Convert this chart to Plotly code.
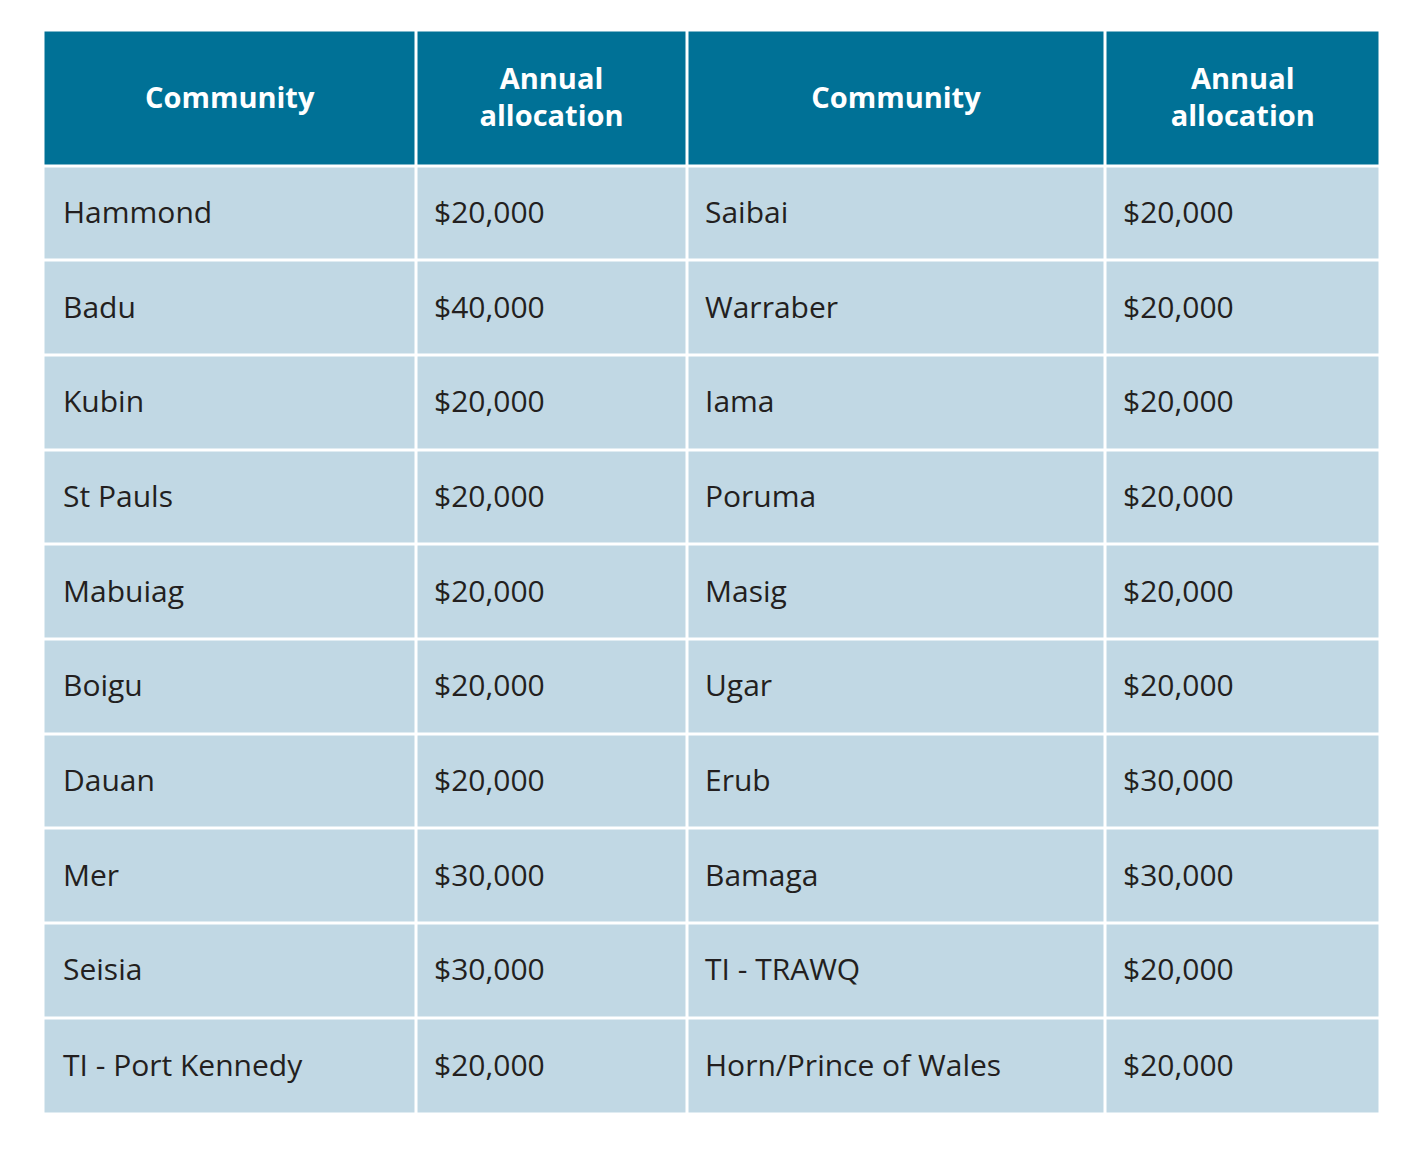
import plotly.graph_objects as go

# Table data
header_labels = ["Community", "Annual<br>allocation", "Community", "Annual<br>allocation"]
community_left = ["Hammond", "Badu", "Kubin", "St Pauls", "Mabuiag",
                  "Boigu", "Dauan", "Mer", "Seisia", "TI - Port Kennedy"]
allocation_left = [20000, 40000, 20000, 20000, 20000,
                   20000, 20000, 30000, 30000, 20000]
community_right = ["Saibai", "Warraber", "Iama", "Poruma", "Masig",
                   "Ugar", "Erub", "Bamaga", "TI - TRAWQ", "Horn/Prince of Wales"]
allocation_right = [20000, 20000, 20000, 20000, 20000,
                    20000, 30000, 30000, 20000, 20000]

# Layout (pixel units of the page)
W, H = 1414, 1157
OFF = 8                      # page body margin
GAP = 3                      # white rules between cells
left = 45 - GAP / 2
col_widths = [371 + GAP / 2, 271, 418, 274 + GAP / 2]
top = 32 - GAP / 2
header_h = 134 + GAP / 2
row_h = 94.7
text_pad = 18
text_dy = 2

HEADER_BG = "#007196"
CELL_BG = "#C1D8E4"
TEXT = "#231F20"

n_rows = len(community_left)
x_edges = [left]
for w in col_widths:
    x_edges.append(x_edges[-1] + w)
y_edges = [top, top + header_h]
for i in range(n_rows):
    y_edges.append(y_edges[-1] + row_h)
y_edges[-1] += GAP / 2

# 0 = header, 1 = body
z = [[0] * 4] + [[1] * 4 for _ in range(n_rows)]

fig = go.Figure()
fig.add_trace(go.Heatmap(
    x=x_edges, y=y_edges, z=z,
    zmin=0, zmax=1,
    colorscale=[[0, HEADER_BG], [0.5, HEADER_BG], [0.5, CELL_BG], [1, CELL_BG]],
    xgap=GAP, ygap=GAP,
    showscale=False,
    hoverinfo="skip",
))

# Header text
col_centers = [(x_edges[i] + x_edges[i + 1]) / 2 for i in range(4)]
fig.add_trace(go.Scatter(
    x=col_centers,
    y=[(y_edges[0] + y_edges[1]) / 2 + text_dy] * 4,
    text=["<b>" + h + "</b>" for h in header_labels],
    mode="text",
    textposition="middle center",
    textfont=dict(family="Open Sans", size=29, color="white"),
    hoverinfo="skip",
))

# Body text
row_centers = [(y_edges[i] + y_edges[i + 1]) / 2 + text_dy for i in range(1, n_rows + 1)]
columns = [
    community_left,
    ["${:,}".format(v) for v in allocation_left],
    community_right,
    ["${:,}".format(v) for v in allocation_right],
]
for i, col in enumerate(columns):
    fig.add_trace(go.Scatter(
        x=[x_edges[i] + text_pad + (GAP / 2 if i == 0 else 0)] * n_rows,
        y=row_centers,
        text=col,
        mode="text",
        textposition="middle right",
        textfont=dict(family="Open Sans", size=30, color=TEXT),
        hoverinfo="skip",
    ))

fig.update_layout(
    width=W,
    height=H,
    margin=dict(l=0, r=0, t=0, b=0),
    paper_bgcolor="white",
    plot_bgcolor="white",
    showlegend=False,
    xaxis=dict(range=[OFF, W + OFF], visible=False, fixedrange=True),
    yaxis=dict(range=[H + OFF, OFF], visible=False, fixedrange=True),
)

fig.write_html("out.html")
